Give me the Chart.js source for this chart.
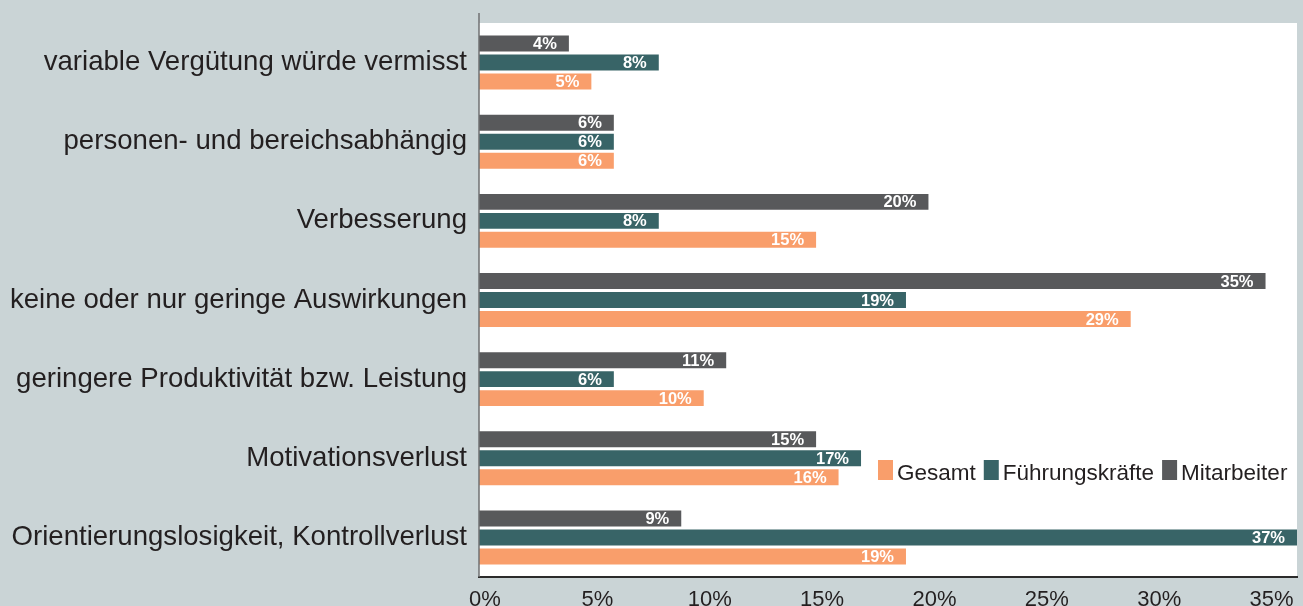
<!DOCTYPE html>
<html lang="de">
<head>
<meta charset="utf-8">
<title>Auswirkungen</title>
<script src="https://cdn.jsdelivr.net/npm/chart.js@4.4.1/dist/chart.umd.min.js"></script>
<style>
    html, body {
        margin: 0;
        padding: 0;
        background: #cad4d6;
    }
    #chart-wrap {
        position: relative;
        width: 1303px;
        height: 606px;
    }
</style>
</head>
<body>
<div id="chart-wrap">
    <canvas id="impact-chart"></canvas>
</div>
<script>
let categories = [
    'variable Vergütung würde vermisst',
    'personen- und bereichsabhängig',
    'Verbesserung',
    'keine oder nur geringe Auswirkungen',
    'geringere Produktivität bzw. Leistung',
    'Motivationsverlust',
    'Orientierungslosigkeit, Kontrollverlust'
];

let mitarbeiter = [4, 6, 20, 35, 11, 15, 9];
let fuehrungskraefte = [8, 6, 8, 19, 6, 17, 37];
let gesamt = [5, 6, 15, 29, 10, 16, 19];

let xTicks = [0, 5, 10, 15, 20, 25, 30, 35];

const FONT = '"Liberation Sans", Arial, Helvetica, sans-serif';
const TEXT_COLOR = '#231f20';

let colors = {
    mitarbeiter: '#58595b',
    fuehrung: '#386467',
    gesamt: '#f99e6b'
};

// white plot area + the left axis line that sticks out above it
const plotBackground = {
    id: 'plotBackground',
    beforeDraw(chart) {
        const {ctx, chartArea} = chart;
        ctx.save();
        ctx.fillStyle = '#ffffff';
        ctx.fillRect(chartArea.left, chartArea.top, chartArea.right - chartArea.left, chartArea.bottom - chartArea.top);
        ctx.restore();
    },
    afterDraw(chart) {
        const {ctx, chartArea} = chart;
        ctx.save();
        ctx.strokeStyle = '#6f7072';
        ctx.lineWidth = 1.5;
        ctx.beginPath();
        ctx.moveTo(chartArea.left, 13);
        ctx.lineTo(chartArea.left, chartArea.bottom);
        ctx.stroke();
        ctx.restore();
    }
};

// value labels inside the bar ends
const barValueLabels = {
    id: 'barValueLabels',
    afterDatasetsDraw(chart) {
        const {ctx, chartArea} = chart;
        ctx.save();
        ctx.font = 'bold 16.5px ' + FONT;
        ctx.fillStyle = '#ffffff';
        ctx.textAlign = 'right';
        ctx.textBaseline = 'middle';
        chart.data.datasets.forEach((dataset, i) => {
            const meta = chart.getDatasetMeta(i);
            meta.data.forEach((bar, j) => {
                const end = Math.min(bar.x, chartArea.right);
                ctx.fillText(dataset.data[j] + '%', end - 12, bar.y + 1);
            });
        });
        ctx.restore();
    }
};

// legend sits inside the plot, reversed order
const innerLegend = {
    id: 'innerLegend',
    afterDraw(chart) {
        const {ctx} = chart;
        let items = chart.data.datasets.slice().reverse();
        let x = 878;
        const top = 460;
        ctx.save();
        ctx.font = '22.5px ' + FONT;
        ctx.textBaseline = 'alphabetic';
        ctx.textAlign = 'left';
        for (let item of items) {
            ctx.fillStyle = item.backgroundColor;
            ctx.fillRect(x, top, 15, 20);
            ctx.fillStyle = TEXT_COLOR;
            ctx.fillText(item.label, x + 19, top + 20);
            x += 19 + ctx.measureText(item.label).width + 8;
        }
        ctx.restore();
    }
};

let config = {
    type: 'bar',
    data: {
        labels: categories,
        datasets: [
            {label: 'Mitarbeiter', data: mitarbeiter, backgroundColor: colors.mitarbeiter},
            {label: 'Führungskräfte', data: fuehrungskraefte, backgroundColor: colors.fuehrung},
            {label: 'Gesamt', data: gesamt, backgroundColor: colors.gesamt}
        ]
    },
    options: {
        indexAxis: 'y',
        responsive: true,
        maintainAspectRatio: false,
        animation: false,
        datasets: {
            bar: {
                categoryPercentage: 0.72,
                barPercentage: 0.84
            }
        },
        layout: {
            padding: {top: 23, right: 6, left: 0, bottom: 0}
        },
        plugins: {
            legend: {display: false},
            tooltip: {enabled: false}
        },
        scales: {
            x: {
                min: 0,
                max: 36.4,
                afterFit: (scale) => {
                    scale.height = 29;
                    scale.paddingLeft = 0;
                    scale.paddingRight = 0;
                },
                afterBuildTicks: (scale) => {
                    scale.ticks = xTicks.map(v => ({value: v}));
                },
                ticks: {
                    includeBounds: false,
                    labelOffset: 6,
                    padding: 10,
                    color: TEXT_COLOR,
                    font: {family: FONT, size: 22},
                    callback: (value) => value + '%'
                },
                grid: {display: false, drawTicks: false},
                border: {display: true, color: '#2b2b2b', width: 2}
            },
            y: {
                afterFit: (scale) => {
                    // fixed label column, no label overhang padding
                    scale.width = 479;
                    scale.paddingTop = 0;
                    scale.paddingBottom = 0;
                },
                ticks: {
                    padding: 12,
                    color: TEXT_COLOR,
                    font: {family: FONT, size: 27.6}
                },
                grid: {display: false, drawTicks: false},
                border: {display: false}
            }
        }
    },
    plugins: [plotBackground, barValueLabels, innerLegend]
};

new Chart(document.getElementById('impact-chart'), config);
</script>
</body>
</html>
